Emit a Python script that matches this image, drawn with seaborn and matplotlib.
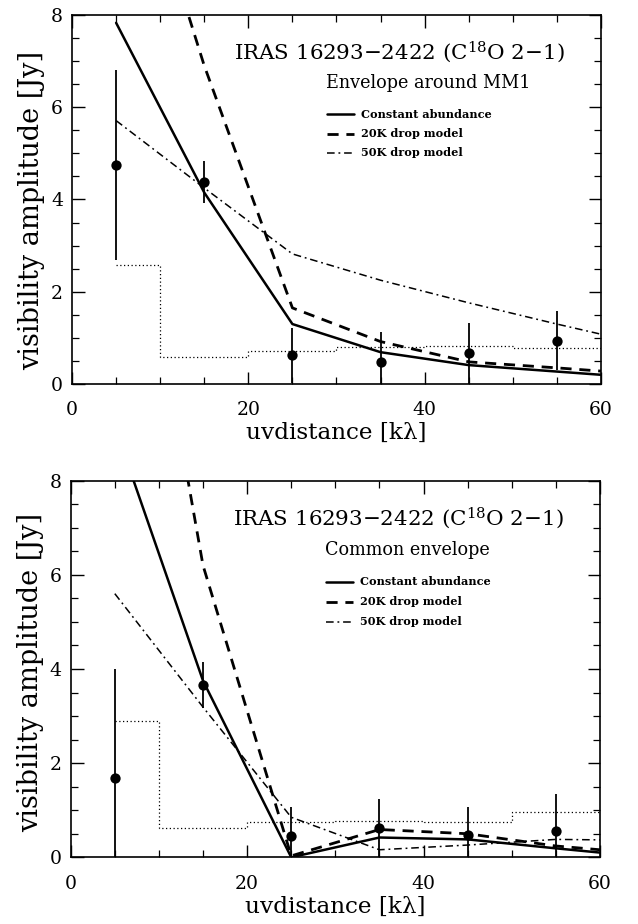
import numpy as np
import pandas as pd
import matplotlib
matplotlib.use("Agg")
import matplotlib.pyplot as plt
import seaborn as sns

# ---------------- data ----------------
uv_bins = [5, 15, 25, 35, 45, 55]
model_uv = [5, 15, 25, 35, 45, 55, 60]
noise_edges = [5, 10, 20, 30, 40, 50, 60]

# Envelope around MM1
mm1_obs = [4.75, 4.38, 0.62, 0.48, 0.67, 0.94]
mm1_err = [2.06, 0.46, 0.60, 0.64, 0.66, 0.64]
mm1_const = [7.83, 4.15, 1.30, 0.69, 0.41, 0.27, 0.20]
mm1_drop20 = [13.0, 6.90, 1.65, 0.92, 0.48, 0.35, 0.28]
mm1_drop50 = [5.71, 4.25, 2.82, 2.25, 1.76, 1.30, 1.08]
mm1_noise = [2.58, 0.59, 0.71, 0.80, 0.83, 0.78]

# Common envelope
com_obs = [1.69, 3.66, 0.46, 0.62, 0.47, 0.56]
com_err = [2.32, 0.49, 0.61, 0.62, 0.59, 0.78]
com_const = [9.15, 3.75, 0.0, 0.42, 0.38, 0.19, 0.10]
com_drop20 = [16.8, 6.20, 0.03, 0.59, 0.50, 0.24, 0.16]
com_drop50 = [5.60, 3.19, 0.85, 0.16, 0.26, 0.38, 0.37]
com_noise = [2.90, 0.63, 0.74, 0.78, 0.74, 0.97]

title_txt = "IRAS 16293\u22122422 (C$^{18}$O 2\u22121)"
subtitles = ["Envelope around MM1", "Common envelope"]
legend_labels = ["Constant abundance", "20K drop model", "50K drop model"]
xlabel = "uvdistance [k\u03bb]"
ylabel = "visibility amplitude [Jy]"

# ---------------- style ----------------
sns.set_theme(style="ticks")
plt.rcParams["font.family"] = ["DejaVu Serif"]
plt.rcParams["mathtext.fontset"] = "dejavuserif"
plt.rcParams["axes.linewidth"] = 1.2
plt.rcParams["text.color"] = "black"
plt.rcParams["axes.labelcolor"] = "black"
plt.rcParams["xtick.color"] = "black"
plt.rcParams["ytick.color"] = "black"
plt.rcParams["axes.edgecolor"] = "black"

fig = plt.figure(figsize=(6.38, 9.24), dpi=100)
ax_top = fig.add_axes([0.1129, 0.5844, 0.829, 0.3994])
ax_bot = fig.add_axes([0.1108, 0.0722, 0.8296, 0.4076])

styles = [
    dict(color="black", lw=1.8, ls="-"),
    dict(color="black", lw=2.0, ls=(0, (4.0, 2.8))),
    dict(color="black", lw=1.1, ls=(0, (5.0, 2.5, 1.2, 2.5))),
]

panels = [
    (ax_top, mm1_obs, mm1_err, [mm1_const, mm1_drop20, mm1_drop50], mm1_noise, subtitles[0], 0.47),
    (ax_bot, com_obs, com_err, [com_const, com_drop20, com_drop50], com_noise, subtitles[1], 0.49),
]

for ax, obs, err, models, noise, sub, ylab_pos in panels:
    # noise histogram (dotted steps)
    df_n = pd.DataFrame({"uv": noise_edges, "amp": noise + [noise[-1]]})
    sns.lineplot(data=df_n, x="uv", y="amp", ax=ax, color="black", lw=0.9,
                 ls=(0, (1, 2)), drawstyle="steps-post", sort=False)
    # model curves
    for vals, st in zip(models, styles):
        df_m = pd.DataFrame({"uv": model_uv, "amp": vals})
        sns.lineplot(data=df_m, x="uv", y="amp", ax=ax, sort=False, **st)
    # observations with error bars
    ax.errorbar(uv_bins, obs, yerr=err, fmt="none", ecolor="black", elinewidth=1.3, capsize=0)
    df_o = pd.DataFrame({"uv": uv_bins, "amp": obs})
    sns.scatterplot(data=df_o, x="uv", y="amp", ax=ax, color="black", s=55,
                    edgecolor="black", linewidth=0, zorder=5)

    ax.set_xlim(0, 60)
    ax.set_ylim(0, 8)
    ax.set_xticks([0, 20, 40, 60])
    ax.set_xticks(np.arange(0, 61, 5), minor=True)
    ax.set_yticks([0, 2, 4, 6, 8])
    ax.set_yticks(np.arange(0, 8.01, 0.5), minor=True)
    ax.tick_params(which="both", direction="in", top=True, right=True, colors="black")
    ax.tick_params(which="major", length=9, width=1.0, labelsize=13.5)
    ax.tick_params(axis="x", which="major", pad=12.5)
    ax.tick_params(axis="y", which="major", pad=6.5)
    ax.tick_params(which="minor", length=5, width=0.9)
    for s in ax.spines.values():
        s.set_visible(True)
        s.set_color("black")
    ax.set_xlabel(xlabel, fontsize=16.7, labelpad=2)
    ax.set_ylabel(ylabel, fontsize=19.5, labelpad=4)
    ax.yaxis.label.set_y(ylab_pos)

    ax.text(0.306, 0.90, title_txt, transform=ax.transAxes, fontsize=15.4,
            ha="left", va="center")
    ax.text(0.481, 0.815, sub, transform=ax.transAxes, fontsize=12.7,
            ha="left", va="center")
    ys = [0.731, 0.678, 0.626]
    for lab, st, yy in zip(legend_labels, styles, ys):
        ax.plot([0.482, 0.533], [yy, yy], transform=ax.transAxes, **st)
        ax.text(0.546, yy, lab, transform=ax.transAxes, fontsize=8.1,
                fontweight="bold", ha="left", va="center")

fig.savefig("out.png", dpi=100)
